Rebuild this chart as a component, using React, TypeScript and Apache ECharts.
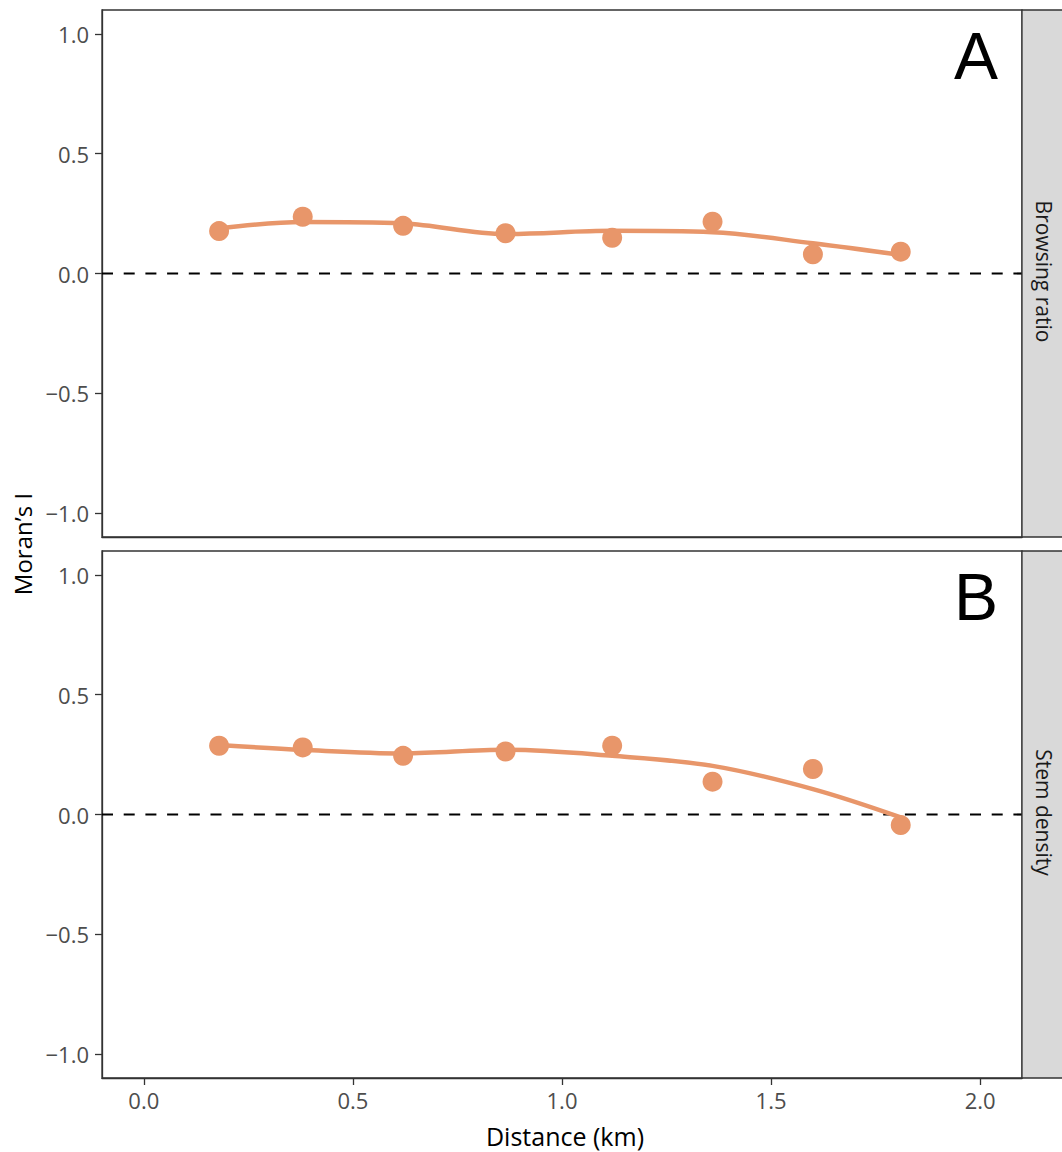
import React, { useEffect, useRef } from "react";
import * as echarts from "echarts";

const distances = [0.18, 0.38, 0.62, 0.865, 1.12, 1.36, 1.6, 1.81];
const browsingI = [0.177, 0.237, 0.199, 0.168, 0.149, 0.216, 0.08, 0.091];
const stemI = [0.287, 0.28, 0.245, 0.263, 0.287, 0.137, 0.19, -0.044];
const browsingSmooth = [0.188, 0.215, 0.209, 0.165, 0.178, 0.172, 0.126, 0.077];
const stemSmooth = [0.29, 0.27, 0.255, 0.27, 0.245, 0.203, 0.106, -0.012];
const xTicks = [0, 0.5, 1, 1.5, 2];
const yTicks = [-1, -0.5, 0, 0.5, 1];
const panelLabels = ["A", "B"];
const stripLabels = ["Browsing ratio", "Stem density"];

const ORANGE = "#E8966A";
const FONT = "'Open Sans', 'Noto Sans', sans-serif";

const fmt = (v: number) => v.toFixed(1).replace("-", "\u2212");

export default function App() {
  const ref = useRef<HTMLDivElement>(null);
  useEffect(() => {
    if (!ref.current) return;
    const chart = echarts.init(ref.current, null, { renderer: "svg" });
    const grids = [
      { left: 102, top: 10, width: 920, height: 527 },
      { left: 102, top: 551, width: 920, height: 527 },
    ];
    const pair = (ys: number[]) => distances.map((d, i) => [d, ys[i]]);
    const seriesSets = [
      [browsingI, browsingSmooth],
      [stemI, stemSmooth],
    ];
    const series: any[] = [];
    seriesSets.forEach(([pts, sm], gi) => {
      series.push({
        type: "line",
        xAxisIndex: gi,
        yAxisIndex: gi,
        data: [[-0.1, 0], [2.1, 0]],
        symbol: "none",
        lineStyle: { color: "#000", width: 2.2, type: [11, 10.7] },
        z: 1,
      });
      series.push({
        type: "scatter",
        xAxisIndex: gi,
        yAxisIndex: gi,
        data: pair(pts),
        symbolSize: 20,
        itemStyle: { color: ORANGE, opacity: 1 },
        z: 3,
      });
      series.push({
        type: "line",
        xAxisIndex: gi,
        yAxisIndex: gi,
        data: pair(sm),
        smooth: 0.35,
        symbol: "none",
        lineStyle: { color: ORANGE, width: 4.5 },
        z: 2,
      });
    });
    const graphics: any[] = [];
    grids.forEach((g, i) => {
      graphics.push({
        type: "rect",
        shape: { x: 1022, y: g.top, width: 45, height: g.height },
        style: { fill: "#d9d9d9", stroke: "#333", lineWidth: 1.3 },
        z: 10,
      });
      graphics.push({
        type: "text",
        x: 1044,
        y: g.top + g.height / 2 - 2,
        rotation: -Math.PI / 2,
        style: {
          text: stripLabels[i],
          font: `21px ${FONT}`,
          fill: "#1a1a1a",
          align: "center",
          verticalAlign: "middle",
        },
        z: 11,
      });
      graphics.push({
        type: "text",
        x: 976,
        y: g.top + 79,
        style: {
          text: panelLabels[i],
          font: `66px 'Liberation Sans', Arial, sans-serif`,
          fill: "#000",
          align: "center",
          verticalAlign: "bottom",
        },
        z: 11,
      });
    });
    graphics.push({
      type: "text",
      x: 22,
      y: 544,
      rotation: Math.PI / 2,
      style: {
        text: "Moran\u2019s I",
        font: `24px ${FONT}`,
        fill: "#000",
        align: "center",
        verticalAlign: "middle",
      },
    });
    graphics.push({
      type: "text",
      x: 565,
      y: 1136,
      style: {
        text: "Distance (km)",
        font: `25px ${FONT}`,
        fill: "#000",
        align: "center",
        verticalAlign: "middle",
      },
    });

    chart.setOption({
      animation: false,
      backgroundColor: "#fff",
      grid: grids.map((g) => ({ ...g, show: true, borderColor: "#333", borderWidth: 1.3, backgroundColor: "transparent" })),
      xAxis: grids.map((_, i) => ({
        type: "value",
        gridIndex: i,
        min: -0.1,
        max: 2.1,
        splitLine: { show: false },
        axisLine: { show: true, onZero: false, lineStyle: { color: "#333", width: 1.3 } },
        axisTick: {
          show: i === 1,
          length: 7,
          customValues: xTicks,
          lineStyle: { color: "#333", width: 1.3 },
        },
        axisLabel: {
          show: i === 1,
          customValues: xTicks,
          formatter: (v: number) => fmt(v),
          color: "#4d4d4d",
          fontSize: 22,
          fontFamily: FONT,
          margin: 11,
        },
      })),
      yAxis: grids.map((_, i) => ({
        type: "value",
        gridIndex: i,
        min: -1.1,
        max: 1.1,
        splitLine: { show: false },
        axisLine: { show: true, onZero: false, lineStyle: { color: "#333", width: 1.3 } },
        axisTick: {
          show: true,
          length: 7,
          customValues: yTicks,
          lineStyle: { color: "#333", width: 1.3 },
        },
        axisLabel: {
          customValues: yTicks,
          formatter: (v: number) => fmt(v),
          color: "#4d4d4d",
          fontSize: 22,
          fontFamily: FONT,
          margin: 13,
        },
      })),
      series,
      graphic: graphics,
    });
    return () => chart.dispose();
  }, []);
  return (
    <div
      ref={ref}
      style={{ position: "absolute", left: 0, top: 0, width: 1062, height: 1152 }}
    />
  );
}
